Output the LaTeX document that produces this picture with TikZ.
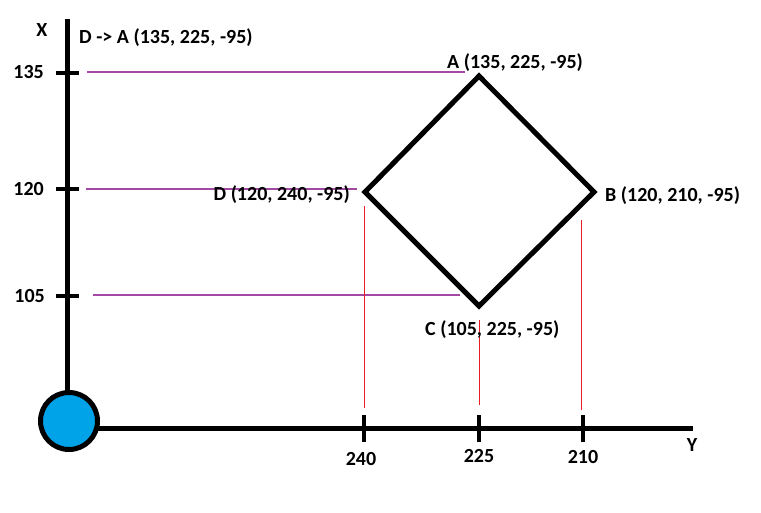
\documentclass[tikz,border=0pt]{standalone}
\usepackage{fontspec}
\setmainfont{Carlito}
\definecolor{paintpurple}{RGB}{163,73,164}
\definecolor{paintred}{RGB}{237,28,36}
\definecolor{paintblue}{RGB}{0,162,232}
\begin{document}
\begin{tikzpicture}[x=1pt,y=-1pt,
  lbl/.style={inner sep=0pt, font=\fontsize{20}{24}\selectfont\bfseries},
  axis/.style={line width=5pt},
  tickline/.style={line width=4.5pt},
  guideP/.style={paintpurple, line width=1.2pt},
  guideR/.style={paintred, line width=1pt},
  diamondline/.style={line width=5pt, line join=miter}]
\useasboundingbox[fill=white] (0,0) rectangle (761,512);

% origin circle
\node[circle, draw, line width=5pt, fill=paintblue, minimum size=57pt, inner sep=0pt] (O) at (69,421) {};

% axes
\coordinate (xtop) at (67,19);
\coordinate (xbot) at (67,393);
\coordinate (yleft) at (97,428);
\coordinate (yright) at (693,428);
\draw[axis] (xtop) -- (xbot);
\draw[axis] (yleft) -- (yright);

% x-axis ticks
\foreach \n/\yy in {t135/73, t120/189, t105/296} {
  \coordinate (\n a) at (56,\yy);
  \coordinate (\n b) at (79,\yy);
  \draw[tickline] (\n a) -- (\n b);
}
% y-axis ticks
\foreach \n/\xx in {t240/364, t225/479, t210/583} {
  \coordinate (\n a) at (\xx,415);
  \coordinate (\n b) at (\xx,442);
  \draw[tickline] (\n a) -- (\n b);
}

% axis labels
\node[lbl, anchor=base] (lx) at (42,36) {X};
\node[lbl, anchor=base] (ly) at (692,451) {Y};
\node[lbl, anchor=base east] (l135) at (44,78) {135};
\node[lbl, anchor=base east] (l120) at (44,195) {120};
\node[lbl, anchor=base east] (l105) at (45,302) {105};
\node[lbl, anchor=base] (l240) at (361,465) {240};
\node[lbl, anchor=base] (l225) at (479,462) {225};
\node[lbl, anchor=base] (l210) at (583,463) {210};

% title
\node[lbl, anchor=base west] (title) at (79,43) {D -> A (135, 225, -95)};

% purple guides
\coordinate (p1a) at (87,72);   \coordinate (p1b) at (465,72);
\coordinate (p2a) at (86,189);  \coordinate (p2b) at (357,189);
\coordinate (p3a) at (93,295);  \coordinate (p3b) at (460,295);
\draw[guideP] (p1a) -- (p1b);
\draw[guideP] (p2a) -- (p2b);
\draw[guideP] (p3a) -- (p3b);

% red guides
\coordinate (r1a) at (364,206); \coordinate (r1b) at (364,408);
\coordinate (r2a) at (479,320); \coordinate (r2b) at (479,405);
\coordinate (r3a) at (581,220); \coordinate (r3b) at (581,410);
\draw[guideR] (r1a) -- (r1b);
\draw[guideR] (r2a) -- (r2b);
\draw[guideR] (r3a) -- (r3b);

% diamond
\coordinate (A) at (479,76);
\coordinate (B) at (594,192);
\coordinate (C) at (479,306);
\coordinate (D) at (365,192);
\draw[diamondline] (A) -- (B) -- (C) -- (D) -- cycle;

% vertex labels
\node[lbl, anchor=base west] (la) at (447,68) {A (135, 225, -95)};
\node[lbl, anchor=base west] (lb) at (605,201) {B (120, 210, -95)};
\node[lbl, anchor=base west] (lc) at (425,335) {C (105, 225, -95)};
\node[lbl, anchor=base east] (ld) at (350,200) {D (120, 240, -95)};
\end{tikzpicture}
\end{document}
